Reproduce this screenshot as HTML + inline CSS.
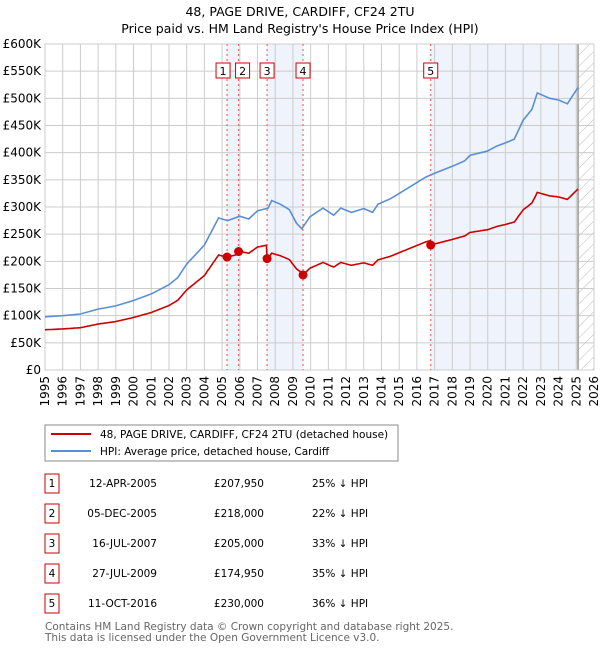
<!DOCTYPE html>
<html><head><meta charset="utf-8"><style>
body{margin:0;background:#fff;font-family:"DejaVu Sans","Liberation Sans",sans-serif;}
svg text{font-family:"DejaVu Sans","Liberation Sans",sans-serif;}
</style></head><body>
<svg id="chart" width="600" height="650" xmlns="http://www.w3.org/2000/svg">
<defs><pattern id="hatch" width="8" height="8" patternUnits="userSpaceOnUse" patternTransform="rotate(45)"><line x1="0" y1="0" x2="0" y2="8" stroke="#bbb" stroke-width="1"/></pattern></defs>
<text x="300" y="16" text-anchor="middle" font-size="12.5">48, PAGE DRIVE, CARDIFF, CF24 2TU</text>
<text x="300" y="33" text-anchor="middle" font-size="12.5">Price paid vs. HM Land Registry's House Price Index (HPI)</text>
<g id="plot"></g>
<g>
<rect x="45" y="425" width="353" height="36" fill="#fff" stroke="#888" stroke-width="1"/>
<line x1="51" y1="434" x2="91" y2="434" stroke="#cc0000" stroke-width="2"/>
<text x="100" y="438" font-size="10.5">48, PAGE DRIVE, CARDIFF, CF24 2TU (detached house)</text>
<line x1="51" y1="451" x2="91" y2="451" stroke="#5b8fd4" stroke-width="2"/>
<text x="100" y="455" font-size="10.5">HPI: Average price, detached house, Cardiff</text>
</g>
<g id="table"></g>
<text x="45" y="630" font-size="10.5" fill="#666">Contains HM Land Registry data © Crown copyright and database right 2025.</text>
<text x="45" y="641" font-size="10.5" fill="#666">This data is licensed under the Open Government Licence v3.0.</text>
</svg>
<script>
const hpiYears=[1995,1996,1997,1998,1999,2000,2001,2002,2002.5,2003,2004,2004.8,2005.3,2006,2006.5,2007,2007.6,2007.8,2008.3,2008.8,2009.2,2009.5,2009.96,2010.7,2011.3,2011.7,2012.3,2013,2013.5,2013.8,2014.5,2015,2016,2016.5,2017,2018,2018.7,2019,2019.6,2020,2020.5,2021,2021.5,2022,2022.5,2022.8,2023.5,2024,2024.5,2024.8,2025.1];
const hpiValues=[98,100,103,112,118,128,140,157,170,195,230,280,275,283,278,293,298,312,305,295,270,260,282,298,285,298,290,297,290,305,315,325,345,355,362,375,385,395,400,403,412,418,425,460,480,510,500,497,490,505,520];
const saleYears=[2005.28,2005.93,2007.54,2009.57,2016.78];
const salePrices=[207950,218000,205000,174950,230000];
const saleDates=["12-APR-2005","05-DEC-2005","16-JUL-2007","27-JUL-2009","11-OCT-2016"];
const salePriceLabels=["£207,950","£218,000","£205,000","£174,950","£230,000"];
const saleDiffs=["25% ↓ HPI","22% ↓ HPI","33% ↓ HPI","35% ↓ HPI","36% ↓ HPI"];
const yTicks=[0,50,100,150,200,250,300,350,400,450,500,550,600];
const yTickLabels=["£0","£50K","£100K","£150K","£200K","£250K","£300K","£350K","£400K","£450K","£500K","£550K","£600K"];
const xTicks=[1995,1996,1997,1998,1999,2000,2001,2002,2003,2004,2005,2006,2007,2008,2009,2010,2011,2012,2013,2014,2015,2016,2017,2018,2019,2020,2021,2022,2023,2024,2025,2026];

const NS="http://www.w3.org/2000/svg";
const X0=45,X1=594,Y0=370,Y1=44,dataEnd=2025.1;
const xs=y=>X0+(y-1995)/(2026-1995)*(X1-X0);
const ys=v=>Y0-v/600*(Y0-Y1);
const plot=document.getElementById('plot');
function mk(tag,attrs,parent){const e=document.createElementNS(NS,tag);for(const k in attrs)e.setAttribute(k,attrs[k]);(parent||plot).appendChild(e);return e;}
function hpiAt(t){if(t<=hpiYears[0])return hpiValues[0];for(let i=1;i<hpiYears.length;i++){if(t<=hpiYears[i]){const f=(t-hpiYears[i-1])/(hpiYears[i]-hpiYears[i-1]);return hpiValues[i-1]+f*(hpiValues[i]-hpiValues[i-1]);}}return hpiValues[hpiValues.length-1];}

const shades=[[saleYears[0],saleYears[1]],[saleYears[2],saleYears[3]],[saleYears[4],dataEnd]];
shades.forEach(s=>{const r=mk('rect',{x:xs(s[0]),y:Y1,width:xs(s[1])-xs(s[0]),height:Y0-Y1,fill:'#eef3fc'});

});
const hr=mk('rect',{x:xs(dataEnd),y:Y1,width:X1-xs(dataEnd),height:Y0-Y1,fill:'url(#hatch)'});


xTicks.forEach(t=>{mk('line',{x1:xs(t),y1:Y1,x2:xs(t),y2:Y0,stroke:'#ccc','stroke-width':1});
const tx=mk('text',{x:0,y:0,'font-size':12,'text-anchor':'end',transform:`translate(${xs(t)+4},${Y0+6}) rotate(-90)`});
tx.textContent=t;

});
yTicks.forEach((t,i)=>{mk('line',{x1:X0,y1:ys(t),x2:X1,y2:ys(t),stroke:'#ccc','stroke-width':1});
const tx=mk('text',{x:X0-4,y:ys(t)+4,'font-size':12,'text-anchor':'end'});
tx.textContent=yTickLabels[i];

});
mk('line',{x1:xs(dataEnd),y1:Y1,x2:xs(dataEnd),y2:Y0,stroke:'#999','stroke-width':1.5});
mk('rect',{x:X0,y:Y1,width:X1-X0,height:Y0-Y1,fill:'none',stroke:'#ccc'});
saleYears.forEach((s,i)=>{mk('line',{x1:xs(s),y1:Y1,x2:xs(s),y2:Y0,stroke:'#f05050','stroke-width':1,'stroke-dasharray':'2,3'});
const off=(i===0)?-4:(i===1?4:0);
const bx=xs(s)+off-7;
const b=mk('rect',{x:bx,y:63,width:14,height:15,fill:'#fff',stroke:'#cc0000'});


const t=mk('text',{x:bx+7,y:75,'font-size':11,'text-anchor':'middle'});t.textContent=i+1;});
let d='';hpiYears.forEach((y,i)=>{d+=(i?'L':'M')+xs(y).toFixed(1)+','+ys(hpiValues[i]).toFixed(1);});
const hl=mk('path',{d:d,fill:'none',stroke:'#5b8fd4','stroke-width':1.6});


let pd='';const steps=[];for(let t=1995;t<=dataEnd+1e-9;t+=0.05)steps.push(t);
saleYears.forEach(s=>steps.push(s,s+1e-4));steps.push(dataEnd);steps.sort((a,b)=>a-b);
steps.forEach((t,k)=>{let idx=0;for(let i=0;i<saleYears.length;i++)if(t>=saleYears[i])idx=i;
const v=salePrices[idx]/1000*hpiAt(t)/hpiAt(saleYears[idx]);pd+=(k?'L':'M')+xs(t).toFixed(1)+','+ys(v).toFixed(1);});
const pl=mk('path',{d:pd,fill:'none',stroke:'#cc0000','stroke-width':1.6});


saleYears.forEach((s,i)=>{const c=mk('circle',{cx:xs(s),cy:ys(salePrices[i]/1000),r:4.5,fill:'#cc0000'});

});
const tb=document.getElementById('table');
saleDates.forEach((dt,i)=>{const cy=483+i*30;
const b=mk('rect',{x:45,y:cy-9,width:14,height:19,fill:'#fff',stroke:'#cc0000'},tb);


const n=mk('text',{x:52,y:cy+4,'font-size':10.5,'text-anchor':'middle'},tb);n.textContent=i+1;
const a=mk('text',{x:157,y:cy+4,'font-size':10.5,'text-anchor':'end'},tb);a.textContent=dt;


const p=mk('text',{x:264,y:cy+4,'font-size':10.5,'text-anchor':'end'},tb);p.textContent=salePriceLabels[i];


const h=mk('text',{x:312,y:cy+4,'font-size':10.5},tb);h.textContent=saleDiffs[i];

});
</script>
</body></html>
